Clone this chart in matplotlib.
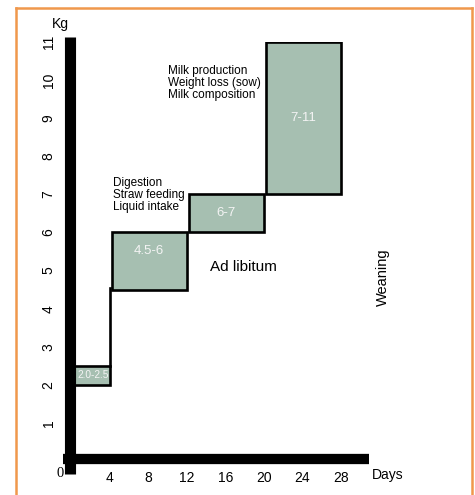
import matplotlib
matplotlib.use("Agg")
import matplotlib.pyplot as plt
from matplotlib.patches import Rectangle

plt.rcParams['font.family'] = ['Liberation Sans', 'DejaVu Sans']

# ---- data ----
day_start = [0, 4.2, 12.2, 20.2]
day_end = [4, 12, 20, 28]
kg_low = [2.0, 4.5, 6.0, 7.0]
kg_high = [2.5, 6.0, 7.0, 11.0]
box_labels = ["2.0-2.5", "4.5-6", "6-7", "7-11"]
box_label_size = [7.3, 9.5, 9.5, 9.5]
box_label_day = [2.3, 8.1, 16.1, 24.1]
box_label_kg = [2.25, 5.5, 6.5, 9.0]
x_ticks = [4, 8, 12, 16, 20, 24, 28]
y_ticks = [1, 2, 3, 4, 5, 6, 7, 8, 9, 10, 11]
note_milk = "Milk production\nWeight loss (sow)\nMilk composition"
note_dig = "Digestion\nStraw feeding\nLiquid intake"

W, H = 475, 495
fig = plt.figure(figsize=(W / 100, H / 100), dpi=100)
fig.patch.set_facecolor('white')

# orange frame (top, left, right)
oc = '#f0984c'
fig.add_artist(plt.Line2D([16 / W, 16 / W], [0, 1 - 8 / H], color=oc, lw=1.8))
fig.add_artist(plt.Line2D([472 / W, 472 / W], [0, 1 - 8 / H], color=oc, lw=1.8))
fig.add_artist(plt.Line2D([16 / W, 472 / W], [1 - 8 / H, 1 - 8 / H], color=oc, lw=1.8))

x0px, x1px = 71, 370
ytop, ybot = 42, 461
ax = fig.add_axes([x0px / W, 1 - ybot / H, (x1px - x0px) / W, (ybot - ytop) / H])
ax.set_xlim(0, 31)
ax.set_ylim(0, 11)
for s in ax.spines.values():
    s.set_visible(False)
ax.set_facecolor('none')

# thick axis bars
ax.plot([-0.15, -0.15], [-0.35, 11.13], color='black', lw=8.0,
        solid_capstyle='butt', clip_on=False, zorder=5)
ax.plot([-0.85, 30.9], [0.05, 0.05], color='black', lw=7.4,
        solid_capstyle='butt', clip_on=False, zorder=5)

fill = '#a6bfb1'
for xs, xe, lo, hi in zip(day_start, day_end, kg_low, kg_high):
    ax.add_patch(Rectangle((xs, lo), xe - xs, hi - lo, facecolor=fill,
                           edgecolor='black', lw=1.9, zorder=3))
for lab, fs, lx, ly in zip(box_labels, box_label_size, box_label_day, box_label_kg):
    ax.text(lx, ly, lab, color='#f4f4f4', fontsize=fs,
            ha='center', va='center', zorder=6)

# connector between first and second box
ax.plot([day_end[0], day_end[0]], [kg_high[0], kg_low[1] + 0.05], color='black',
        lw=1.9, zorder=3)

ax.set_xticks(x_ticks)
ax.set_xticklabels([str(v) for v in x_ticks], fontsize=10)
ax.set_yticks(y_ticks)
ax.set_yticklabels([str(v) for v in y_ticks], fontsize=10, rotation=90,
                   va='center')
ax.tick_params(length=0)
ax.tick_params(axis='x', pad=7)
ax.tick_params(axis='y', pad=11)

ax.text(-1.14, -0.34, "0", family='Liberation Serif', fontsize=10.5,
        ha='center', va='center', clip_on=False)
ax.text(-1.14, 11.47, "Kg", fontsize=10, ha='center', va='center', clip_on=False)
ax.text(31.2, -0.37, "Days", fontsize=10, ha='left', va='center', clip_on=False)
ax.text(10.05, 9.92, note_milk, fontsize=8.5, ha='left', va='center',
        linespacing=1.0)
ax.text(4.35, 6.98, note_dig, fontsize=8.5, ha='left', va='center',
        linespacing=1.0)
ax.text(14.4, 5.09, "Ad libitum", fontsize=11, ha='left', va='center')
ax.text(32.3, 4.83, "Weaning", fontsize=10.5, ha='center', va='center',
        rotation=90, clip_on=False)

fig.savefig("out.png", dpi=100)
